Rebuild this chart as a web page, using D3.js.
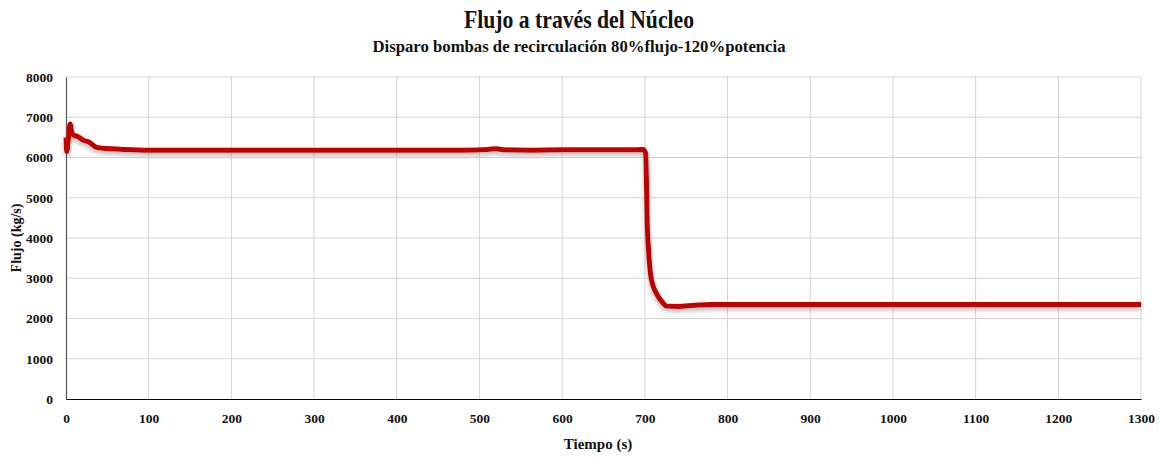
<!DOCTYPE html>
<html><head><meta charset="utf-8">
<script src="https://cdn.jsdelivr.net/npm/d3@7"></script>
<style>body{margin:0;background:#fff}</style>
</head><body><svg id="c" width="1159" height="458"></svg>
<script>
const title = "Flujo a través del Núcleo";
const subtitle = "Disparo bombas de recirculación 80%flujo-120%potencia";
const xLabel = "Tiempo (s)";
const yLabel = "Flujo (kg/s)";
const xTicks = [0,100,200,300,400,500,600,700,800,900,1000,1100,1200,1300];
const yTicks = [0,1000,2000,3000,4000,5000,6000,7000,8000];
const time = [0,1,3,5,7,9,14,21,28,37,45,53,70,100,200,300,400,480,510,520,530,560,600,650,680,698,701,703,705,708,714,722,726,740,760,780,800,900,1000,1100,1200,1300];
const flow = [6500,6150,6500,6830,6620,6560,6520,6430,6380,6250,6230,6220,6200,6180,6180,6180,6180,6180,6200,6220,6190,6180,6190,6190,6190,6200,6100,4300,3535,2960,2625,2385,2310,2300,2330,2350,2350,2345,2345,2345,2345,2350];

const svg = d3.select("#c");
const L=66,R=1141,T=77,B=399;
const x = d3.scaleLinear().domain([0,1300]).range([L,R]);
const y = d3.scaleLinear().domain([0,8000]).range([B,T]);

const defs = svg.append("defs");
const f = defs.append("filter").attr("id","sh").attr("x","-5%").attr("y","-20%").attr("width","110%").attr("height","160%");
f.append("feDropShadow").attr("dx",0).attr("dy",3).attr("stdDeviation",2.2).attr("flood-color","#777").attr("flood-opacity",0.5);

// grid
svg.append("g").selectAll("line").data(xTicks.slice(1)).join("line")
  .attr("x1",d=>x(d)).attr("x2",d=>x(d)).attr("y1",T).attr("y2",B)
  .attr("stroke","#d4d4d4").attr("stroke-width",1);
svg.append("g").selectAll("line").data(yTicks.slice(1)).join("line")
  .attr("x1",L).attr("x2",R).attr("y1",d=>y(d)).attr("y2",d=>y(d))
  .attr("stroke","#d4d4d4").attr("stroke-width",1);

// axes
const font = "'Liberation Serif', 'Times New Roman', serif";
const xa = svg.append("g").attr("transform",`translate(0,${B})`).call(d3.axisBottom(x).tickValues(xTicks).tickSize(0).tickPadding(14).tickFormat(d3.format("d")));
const ya = svg.append("g").attr("transform",`translate(${L},0)`).call(d3.axisLeft(y).tickValues(yTicks).tickSize(0).tickPadding(13).tickFormat(d3.format("d")));
[xa,ya].forEach(a=>{a.select(".domain").attr("stroke","#000").attr("stroke-width",1.2);
  a.selectAll("text").attr("font-family",font).attr("font-size",13.5).attr("font-weight","bold").attr("fill","#111");});
ya.select(".domain").attr("stroke","#555");

// line
const line = d3.line().x((d,i)=>x(time[i])).y(d=>y(d)).curve(d3.curveMonotoneX);
svg.append("path").datum(flow).attr("d",line).attr("fill","none")
  .attr("stroke","#c00000").attr("stroke-width",5).attr("stroke-linejoin","round").attr("filter","url(#sh)");

// titles
svg.append("text").attr("x",579).attr("y",28).attr("text-anchor","middle").attr("font-family",font)
  .attr("font-weight","bold").attr("font-size",25).attr("fill","#111")
  .attr("textLength",230).attr("lengthAdjust","spacingAndGlyphs").text(title);
svg.append("text").attr("x",579).attr("y",52).attr("text-anchor","middle").attr("font-family",font)
  .attr("font-weight","bold").attr("font-size",16.5).attr("fill","#111")
  .attr("textLength",413).attr("lengthAdjust","spacingAndGlyphs").text(subtitle);
svg.append("text").attr("x",598).attr("y",449).attr("text-anchor","middle").attr("font-family",font)
  .attr("font-weight","bold").attr("font-size",15).attr("fill","#111").text(xLabel);
svg.append("text").attr("transform","translate(21,238) rotate(-90)").attr("text-anchor","middle").attr("font-family",font)
  .attr("font-weight","bold").attr("font-size",14).attr("fill","#111").text(yLabel);
</script></body></html>
